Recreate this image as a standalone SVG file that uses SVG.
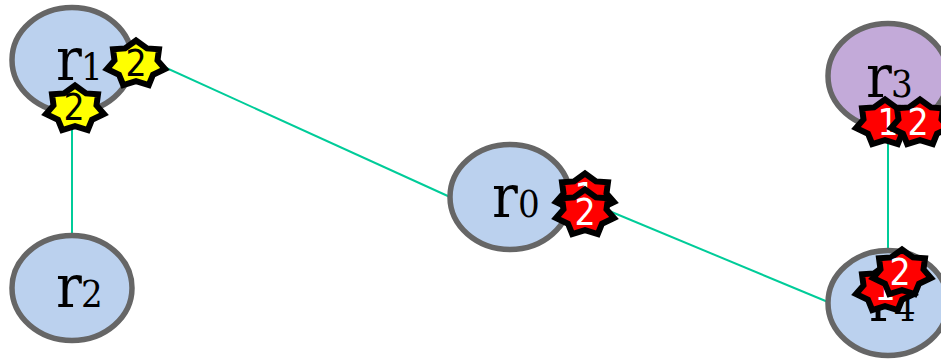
<svg xmlns="http://www.w3.org/2000/svg" width="941" height="360" viewBox="0 0 941 360">
<style>
.n{stroke:#666;stroke-width:5.5;}
.c{stroke:#0c9;stroke-width:2;fill:none;}
.t{font-family:"DejaVu Serif Condensed","DejaVu Serif",serif;font-stretch:condensed;fill:#000;}
.b{font-size:60px;}
.s{font-size:38px;}
.y{fill:#ff0;stroke:#000;stroke-width:6;stroke-linejoin:miter;}
.r{fill:#f00;stroke:#000;stroke-width:6;stroke-linejoin:miter;}
.q{font-family:"DejaVu Sans Condensed","DejaVu Sans",sans-serif;font-stretch:condensed;font-size:37px;text-anchor:middle;}
.w{fill:#fff;}
</style>
<defs>
<polygon id="st" points="0,-23.5 11,-15.6 23,-14.7 21.5,-3.6 29,5 17,10.7 12.8,21 0,17.1 -12.8,21 -17,10.7 -29,5 -21.5,-3.6 -23,-14.7 -11,-15.6"/>
</defs>
<g id="connectors">
<path class="c" d="M72 110V236"/>
<path class="c" d="M140 56L450 197"/>
<path class="c" d="M590 203L828 302"/>
<path class="c" d="M888 125V250"/>
</g>
<g id="r1"><ellipse class="n" cx="72" cy="60" rx="60" ry="52.5" fill="#bbd1ee"/><text class="t b" x="56" y="80">r</text><text class="t s" x="81" y="80">1</text></g>
<g id="r2"><ellipse class="n" cx="72" cy="288" rx="60" ry="52.5" fill="#bbd1ee"/><text class="t b" x="56" y="307">r</text><text class="t s" x="81" y="307">2</text></g>
<g id="r0"><ellipse class="n" cx="510" cy="197" rx="60" ry="52.5" fill="#bbd1ee"/><text class="t b" x="492" y="217">r</text><text class="t s" x="518" y="217">0</text></g>
<g id="r3"><ellipse class="n" cx="888" cy="76" rx="60" ry="52.5" fill="#c3aad9"/><text class="t b" x="866" y="97">r</text><text class="t s" x="891" y="97">3</text></g>
<g id="r4"><ellipse class="n" cx="888" cy="303" rx="60" ry="52.5" fill="#bbd1ee"/><text class="t b" x="869" y="321">r</text><text class="t s" x="894" y="321">4</text></g>
<g id="b1"><use href="#st" x="136" y="64" class="y"/><text class="q" x="136" y="76">2</text></g>
<g id="b2"><use href="#st" x="75" y="109" class="y"/><text class="q" x="74" y="120">2</text></g>
<g id="b3"><use href="#st" x="585" y="197" class="r"/><text class="q w" x="585" y="209">1</text></g>
<g id="b4"><use href="#st" x="585" y="213" class="r"/><text class="q w" x="585" y="225">2</text></g>
<g id="b5"><use href="#st" x="885" y="123" class="r"/><text class="q w" x="888" y="135">1</text></g>
<g id="b6"><use href="#st" x="920" y="123" class="r"/><text class="q w" x="918" y="135">2</text></g>
<g id="b7"><use href="#st" x="885" y="289" class="r"/><text class="q w" x="885" y="300">1</text></g>
<g id="b8"><use href="#st" x="902" y="273" class="r"/><text class="q w" x="900" y="285">2</text></g>
</svg>
